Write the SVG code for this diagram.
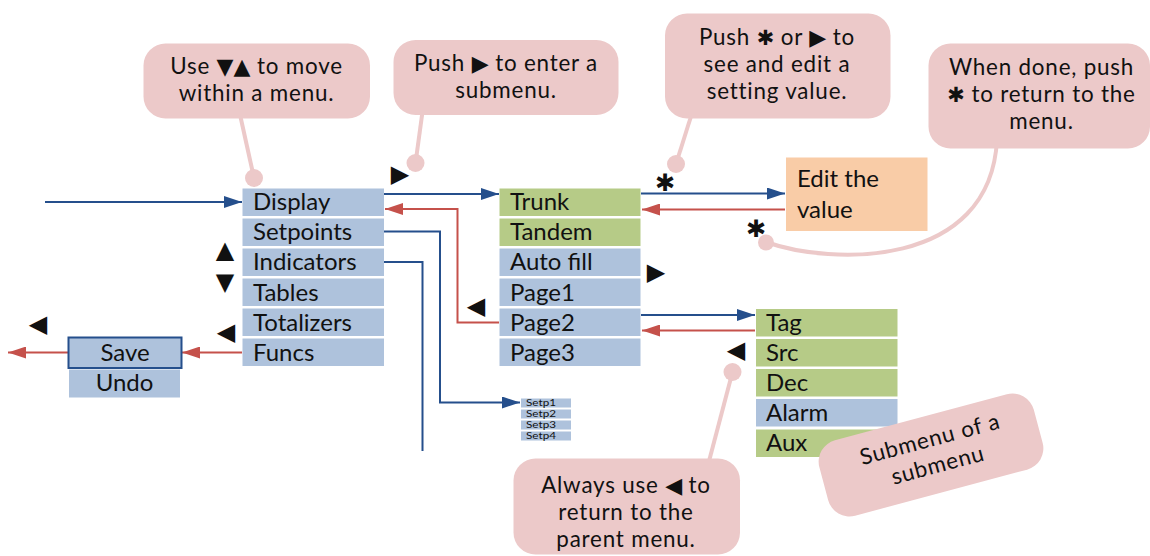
<svg xmlns="http://www.w3.org/2000/svg" width="1150" height="556" viewBox="0 0 1150 556">
<defs>
<style>
text{font-family:Lato,"Noto Sans","DejaVu Sans",sans-serif;font-size:24px;fill:#111}
.sym{font-family:"DejaVu Sans",sans-serif;letter-spacing:0}
.c{text-anchor:middle}
.ct{text-anchor:middle;font-size:22.4px;letter-spacing:0.8px}
.blue{fill:#aec2dc}
.green{fill:#b6cb87}
.call{fill:#ecc9c9}
.tail{stroke:#ecc9c9;stroke-width:4;fill:none}
.bl{stroke:#254f8c;stroke-width:2;fill:none}
.rd{stroke:#c5514b;stroke-width:2;fill:none}
.small{font-size:8.5px}
</style>
<marker id="ab" markerUnits="userSpaceOnUse" markerWidth="18" markerHeight="12" refX="18" refY="6" orient="auto"><path d="M0,0 L18,6 L0,12 z" fill="#254f8c"/></marker>
<marker id="ar" markerUnits="userSpaceOnUse" markerWidth="18" markerHeight="12" refX="18" refY="6" orient="auto"><path d="M0,0 L18,6 L0,12 z" fill="#c5514b"/></marker>
</defs>

<g id="connectors">
<path class="bl" d="M45,202 H242" marker-end="url(#ab)"/>
<path class="bl" d="M384,194 H499" marker-end="url(#ab)"/>
<path class="rd" d="M499,322.5 H457.5 V209 H385" marker-end="url(#ar)"/>
<path class="bl" d="M384,231.5 H440 V402.5 H520" marker-end="url(#ab)"/>
<path class="bl" d="M384,262 H422.5 V451"/>
<path class="rd" d="M242,352.5 H182" marker-end="url(#ar)"/>
<path class="rd" d="M68,352.5 H8" marker-end="url(#ar)"/>
<path class="bl" d="M641,193.5 H785" marker-end="url(#ab)"/>
<path class="rd" d="M785,209.5 H642" marker-end="url(#ar)"/>
<path class="bl" d="M641,315 H755" marker-end="url(#ab)"/>
<path class="rd" d="M755,330.5 H642" marker-end="url(#ar)"/>
</g>

<g id="menu-main">
<rect class="blue" x="242.5" y="188.5" width="141.5" height="27.5"/><text x="253" y="210">Display</text>
<rect class="blue" x="242.5" y="218.5" width="141.5" height="27.5"/><text x="253" y="240">Setpoints</text>
<rect class="blue" x="242.5" y="248.5" width="141.5" height="27.5"/><text x="253" y="270">Indicators</text>
<rect class="blue" x="242.5" y="278.5" width="141.5" height="27.5"/><text x="253" y="300.5">Tables</text>
<rect class="blue" x="242.5" y="308.5" width="141.5" height="27.5"/><text x="253" y="330.5">Totalizers</text>
<rect class="blue" x="242.5" y="338.5" width="141.5" height="27.5"/><text x="253" y="360.5">Funcs</text>
</g>

<g id="menu-save">
<rect class="blue" x="68.5" y="337.5" width="113" height="30.5" stroke="#254f8c" stroke-width="2"/><text class="c" x="125" y="361">Save</text>
<rect class="blue" x="69" y="369.5" width="111" height="28"/><text class="c" x="124.5" y="391">Undo</text>
</g>

<g id="menu-display">
<rect class="green" x="499.5" y="188.5" width="141" height="27.5"/><text x="510" y="210">Trunk</text>
<rect class="green" x="499.5" y="218.5" width="141" height="27.5"/><text x="510" y="240">Tandem</text>
<rect class="blue" x="499.5" y="248.5" width="141" height="27.5"/><text x="510" y="270">Auto fill</text>
<rect class="blue" x="499.5" y="278.5" width="141" height="27.5"/><text x="510" y="300.5">Page1</text>
<rect class="blue" x="499.5" y="308.5" width="141" height="27.5"/><text x="510" y="330.5">Page2</text>
<rect class="blue" x="499.5" y="338.5" width="141" height="27.5"/><text x="510" y="360.5">Page3</text>
</g>

<g id="menu-setpoints">
<rect class="blue" x="521" y="398.5" width="50" height="9"/><text class="small" x="526" y="406" textLength="30" lengthAdjust="spacingAndGlyphs">Setp1</text>
<rect class="blue" x="521" y="409.5" width="50" height="9"/><text class="small" x="526" y="417" textLength="30" lengthAdjust="spacingAndGlyphs">Setp2</text>
<rect class="blue" x="521" y="420.5" width="50" height="9"/><text class="small" x="526" y="428" textLength="30" lengthAdjust="spacingAndGlyphs">Setp3</text>
<rect class="blue" x="521" y="431.5" width="50" height="9"/><text class="small" x="526" y="439" textLength="30" lengthAdjust="spacingAndGlyphs">Setp4</text>
</g>

<g id="edit-value">
<rect x="786" y="157.5" width="141.5" height="73.5" fill="#f9cca7"/>
<text x="797" y="187">Edit the<tspan x="797" dy="31">value</tspan></text>
</g>

<g id="menu-page2">
<rect class="green" x="756" y="309" width="141.5" height="27.5"/><text x="766" y="330.5">Tag</text>
<rect class="green" x="756" y="339" width="141.5" height="27.5"/><text x="766" y="360.5">Src</text>
<rect class="green" x="756" y="369" width="141.5" height="27.5"/><text x="766" y="390.5">Dec</text>
<rect class="blue" x="756" y="399" width="141.5" height="27.5"/><text x="766" y="420.5">Alarm</text>
<rect class="green" x="756" y="429.5" width="141.5" height="27.5"/><text x="766" y="451">Aux</text>
</g>

<g id="key-symbols">
<text class="sym" x="400" y="182" font-size="20" text-anchor="middle">▶</text>
<text class="sym" x="225" y="258" font-size="20" text-anchor="middle">▲</text>
<text class="sym" x="225" y="290" font-size="20" text-anchor="middle">▼</text>
<text class="sym" x="226" y="340" font-size="20" text-anchor="middle">◀</text>
<text class="sym" x="38" y="332" font-size="20" text-anchor="middle">◀</text>
<text class="sym" x="476" y="314" font-size="20" text-anchor="middle">◀</text>
<text class="sym" x="656" y="280" font-size="20" text-anchor="middle">▶</text>
<text class="sym" x="736" y="358" font-size="20" text-anchor="middle">◀</text>
<text class="sym" x="665" y="191" font-size="22" font-weight="bold" text-anchor="middle">✱</text>
<text class="sym" x="756" y="237" font-size="22" font-weight="bold" text-anchor="middle">✱</text>
</g>

<g id="callout-move">
<path class="tail" d="M239,110 L254,178" stroke-width="5"/>
<circle cx="254" cy="178" r="9" class="call"/>
<rect class="call" x="143.5" y="43.5" width="226.5" height="75" rx="22"/>
<text class="ct" x="256.5" y="74">Use <tspan class="sym" font-size="22">▼▲</tspan> to move<tspan x="256.5" dy="27">within a menu.</tspan></text>
</g>

<g id="callout-enter">
<path class="tail" d="M423,108 L415.5,163" stroke-width="5"/>
<circle cx="415.5" cy="163" r="9" class="call"/>
<rect class="call" x="393.5" y="40" width="225" height="75" rx="22"/>
<text class="ct" x="506" y="70.5">Push <tspan class="sym" font-size="22">▶</tspan> to enter a<tspan x="506" dy="27">submenu.</tspan></text>
</g>

<g id="callout-edit">
<path class="tail" d="M693,110 L676,164" stroke-width="5"/>
<circle cx="676" cy="164" r="9" class="call"/>
<rect class="call" x="665" y="13.5" width="225.5" height="105" rx="22"/>
<text class="ct" x="777" y="45">Push <tspan class="sym" font-size="21" font-weight="bold">✱</tspan> or <tspan class="sym" font-size="22">▶</tspan> to<tspan x="777" dy="27">see and edit a</tspan><tspan x="777" dy="27">setting value.</tspan></text>
</g>

<g id="callout-done">
<path class="tail" d="M766,242 C830,265 990,270 997,140" stroke-width="3"/>
<circle cx="766" cy="242.5" r="8" class="call"/>
<rect class="call" x="928.5" y="43.5" width="221.5" height="105" rx="22"/>
<text class="ct" x="1041.5" y="75">When done, push<tspan x="1041.5" dy="27"><tspan class="sym" font-size="21" font-weight="bold">✱</tspan> to return to the</tspan><tspan x="1041.5" dy="27">menu.</tspan></text>
</g>

<g id="callout-back">
<path class="tail" d="M732.5,372 L708,465" stroke-width="5"/>
<circle cx="732.5" cy="372" r="9" class="call"/>
<rect class="call" x="513.5" y="458.5" width="226.5" height="96" rx="22"/>
<text class="ct" x="626" y="493">Always use <tspan class="sym" font-size="22">◀</tspan> to<tspan x="626" dy="27">return to the</tspan><tspan x="626" dy="27">parent menu.</tspan></text>
</g>

<g id="callout-submenu" transform="translate(931,455) rotate(-15)">
<rect class="call" x="-111" y="-39" width="222" height="78" rx="22"/>
<text class="ct" x="3" y="-8">Submenu of a<tspan x="4" dy="27">submenu</tspan></text>
</g>
</svg>
